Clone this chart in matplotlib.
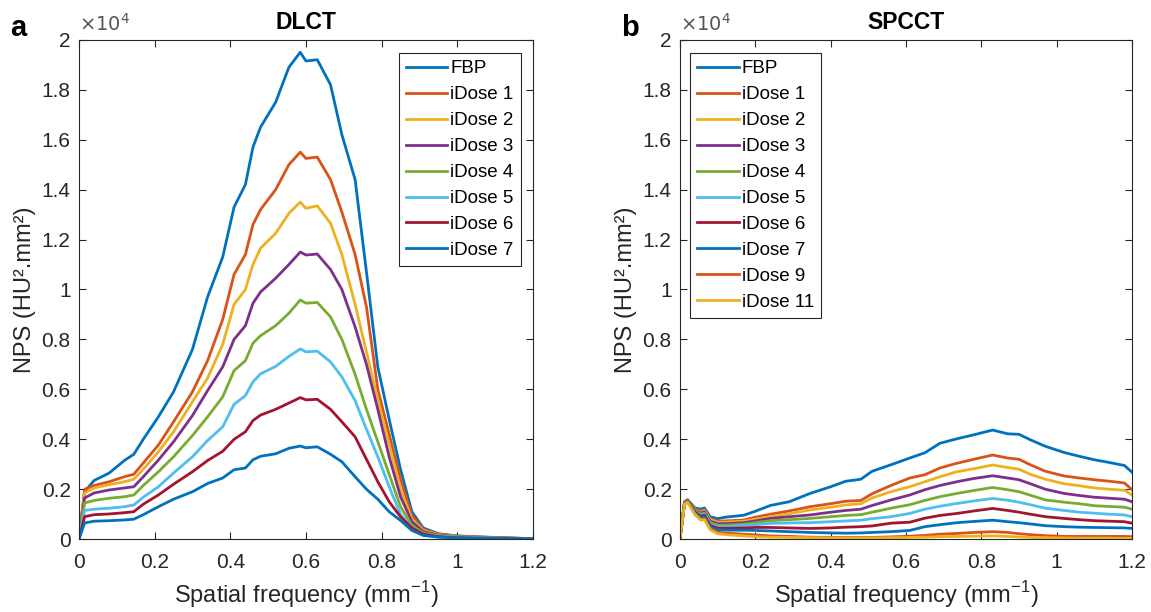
import numpy as np
import matplotlib
matplotlib.use("Agg")
import matplotlib.pyplot as plt
from matplotlib.ticker import FormatStrFormatter

plt.rcParams['font.family'] = ['Liberation Sans', 'DejaVu Sans']

# MATLAB default colour order
colors = ['#0072BD', '#D95319', '#EDB120', '#7E2F8E', '#77AC30', '#4DBEEE', '#A2142F']

# ---- DLCT (values in units of 1e4 HU^2.mm^2) ----
x_dlct = [0, 0.015, 0.04, 0.08, 0.12, 0.145, 0.17, 0.21, 0.25, 0.30, 0.34, 0.38, 0.41, 0.44,
          0.46, 0.48, 0.52, 0.555, 0.585, 0.60, 0.63, 0.665, 0.695, 0.73, 0.76, 0.79, 0.82,
          0.85, 0.88, 0.91, 0.95, 1.0, 1.1, 1.2]
dlct_labels = ['FBP', 'iDose 1', 'iDose 2', 'iDose 3', 'iDose 4', 'iDose 5', 'iDose 6', 'iDose 7']
dlct_fbp = [0, 0.19, 0.235, 0.265, 0.315, 0.34, 0.40, 0.49, 0.59, 0.76, 0.97, 1.13, 1.33, 1.42,
            1.57, 1.65, 1.75, 1.89, 1.95, 1.915, 1.92, 1.82, 1.62, 1.44, 1.07, 0.69, 0.48,
            0.28, 0.11, 0.045, 0.022, 0.013, 0.007, 0.002]
dlct_id1 = [0, 0.20, 0.215, 0.23, 0.25, 0.26, 0.305, 0.377, 0.47, 0.59, 0.715, 0.88, 1.06, 1.14,
            1.26, 1.32, 1.40, 1.50, 1.55, 1.525, 1.53, 1.44, 1.31, 1.14, 0.93, 0.60, 0.42,
            0.24, 0.095, 0.04, 0.02, 0.012, 0.006, 0.002]
dlct_id2 = [0, 0.185, 0.205, 0.218, 0.23, 0.24, 0.28, 0.35, 0.43, 0.55, 0.645, 0.78, 0.94, 1.0,
            1.10, 1.165, 1.225, 1.305, 1.35, 1.325, 1.335, 1.265, 1.14, 0.94, 0.75, 0.56, 0.38,
            0.20, 0.08, 0.035, 0.018, 0.011, 0.005, 0.002]
dlct_id3 = [0, 0.165, 0.185, 0.197, 0.205, 0.21, 0.25, 0.317, 0.39, 0.495, 0.595, 0.69, 0.80, 0.855,
            0.945, 0.99, 1.045, 1.10, 1.15, 1.138, 1.142, 1.08, 1.00, 0.85, 0.70, 0.52, 0.33,
            0.17, 0.07, 0.03, 0.016, 0.01, 0.005, 0.002]
dlct_id4 = [0, 0.145, 0.155, 0.164, 0.17, 0.177, 0.215, 0.27, 0.33, 0.415, 0.49, 0.57, 0.675, 0.715,
            0.785, 0.815, 0.855, 0.905, 0.958, 0.945, 0.948, 0.89, 0.80, 0.66, 0.52, 0.39, 0.26,
            0.13, 0.055, 0.025, 0.014, 0.009, 0.004, 0.002]
dlct_id5 = [0, 0.115, 0.12, 0.124, 0.13, 0.137, 0.168, 0.21, 0.265, 0.33, 0.395, 0.45, 0.54, 0.575,
            0.63, 0.662, 0.692, 0.732, 0.762, 0.75, 0.753, 0.71, 0.65, 0.555, 0.44, 0.33, 0.21,
            0.10, 0.045, 0.02, 0.012, 0.008, 0.004, 0.002]
dlct_id6 = [0, 0.09, 0.098, 0.101, 0.106, 0.11, 0.14, 0.177, 0.22, 0.27, 0.315, 0.352, 0.40, 0.43,
            0.475, 0.497, 0.52, 0.545, 0.567, 0.558, 0.56, 0.52, 0.47, 0.41, 0.32, 0.23, 0.15,
            0.09, 0.045, 0.02, 0.01, 0.006, 0.003, 0.001]
dlct_id7 = [0, 0.065, 0.072, 0.074, 0.077, 0.08, 0.098, 0.13, 0.16, 0.19, 0.223, 0.245, 0.278, 0.285,
            0.318, 0.332, 0.342, 0.364, 0.373, 0.366, 0.37, 0.34, 0.31, 0.25, 0.20, 0.16, 0.11,
            0.075, 0.035, 0.015, 0.008, 0.005, 0.002, 0.001]
dlct_series = [dlct_fbp, dlct_id1, dlct_id2, dlct_id3, dlct_id4, dlct_id5, dlct_id6, dlct_id7]

# ---- SPCCT (values in units of 1e4 HU^2.mm^2) ----
x_spcct = [0, 0.012, 0.02, 0.04, 0.055, 0.065, 0.08, 0.1, 0.12, 0.17, 0.2, 0.24, 0.29, 0.345,
           0.4, 0.44, 0.48, 0.51, 0.56, 0.61, 0.65, 0.69, 0.735, 0.78, 0.83, 0.87, 0.9, 0.93,
           0.97, 1.02, 1.06, 1.1, 1.14, 1.18, 1.2]
spcct_labels = ['FBP', 'iDose 1', 'iDose 2', 'iDose 3', 'iDose 4', 'iDose 5', 'iDose 6',
                'iDose 7', 'iDose 9', 'iDose 11']
spcct_fbp = [0.005, 0.15, 0.158, 0.125, 0.12, 0.125, 0.09, 0.082, 0.088, 0.096, 0.112, 0.135, 0.15,
             0.183, 0.21, 0.232, 0.24, 0.272, 0.298, 0.325, 0.346, 0.384, 0.402, 0.418, 0.437,
             0.422, 0.42, 0.398, 0.372, 0.347, 0.332, 0.318, 0.307, 0.295, 0.268]
spcct_id1 = [0.005, 0.15, 0.157, 0.12, 0.112, 0.118, 0.082, 0.072, 0.073, 0.077, 0.088, 0.1, 0.113,
             0.13, 0.142, 0.152, 0.155, 0.182, 0.215, 0.245, 0.258, 0.285, 0.304, 0.32, 0.337,
             0.325, 0.32, 0.298, 0.272, 0.253, 0.245, 0.238, 0.232, 0.225, 0.198]
spcct_id2 = [0.005, 0.148, 0.156, 0.118, 0.108, 0.115, 0.078, 0.068, 0.068, 0.072, 0.08, 0.09, 0.102,
             0.117, 0.128, 0.137, 0.142, 0.165, 0.19, 0.21, 0.23, 0.25, 0.27, 0.282, 0.297,
             0.287, 0.28, 0.26, 0.24, 0.222, 0.214, 0.205, 0.2, 0.196, 0.177]
spcct_id3 = [0.005, 0.147, 0.155, 0.116, 0.104, 0.11, 0.072, 0.062, 0.062, 0.066, 0.073, 0.083, 0.09,
             0.097, 0.108, 0.115, 0.12, 0.135, 0.157, 0.177, 0.198, 0.215, 0.23, 0.243, 0.254,
             0.245, 0.238, 0.222, 0.2, 0.183, 0.175, 0.168, 0.164, 0.16, 0.15]
spcct_id4 = [0.005, 0.146, 0.154, 0.113, 0.1, 0.105, 0.066, 0.056, 0.056, 0.06, 0.066, 0.074, 0.078,
             0.083, 0.09, 0.095, 0.098, 0.108, 0.124, 0.138, 0.155, 0.17, 0.183, 0.195, 0.207,
             0.198, 0.19, 0.176, 0.157, 0.148, 0.142, 0.134, 0.131, 0.128, 0.12]
spcct_id5 = [0.005, 0.145, 0.153, 0.11, 0.096, 0.1, 0.06, 0.05, 0.05, 0.055, 0.058, 0.063, 0.065,
             0.066, 0.07, 0.073, 0.076, 0.082, 0.09, 0.103, 0.12, 0.132, 0.143, 0.153, 0.163,
             0.156, 0.148, 0.138, 0.124, 0.115, 0.108, 0.104, 0.1, 0.097, 0.09]
spcct_id6 = [0.005, 0.144, 0.152, 0.108, 0.092, 0.096, 0.055, 0.044, 0.043, 0.045, 0.047, 0.047, 0.045,
             0.043, 0.045, 0.048, 0.05, 0.053, 0.064, 0.068, 0.084, 0.095, 0.103, 0.113, 0.123,
             0.115, 0.108, 0.1, 0.09, 0.083, 0.078, 0.074, 0.072, 0.07, 0.064]
spcct_id7 = [0.005, 0.143, 0.151, 0.105, 0.088, 0.09, 0.05, 0.038, 0.036, 0.036, 0.035, 0.033, 0.03,
             0.027, 0.025, 0.024, 0.025, 0.027, 0.03, 0.035, 0.05, 0.058, 0.066, 0.071, 0.076,
             0.07, 0.066, 0.061, 0.054, 0.05, 0.048, 0.047, 0.046, 0.045, 0.043]
spcct_id9 = [0.005, 0.142, 0.15, 0.1, 0.08, 0.082, 0.042, 0.028, 0.024, 0.02, 0.017, 0.013, 0.011,
             0.008, 0.007, 0.007, 0.007, 0.007, 0.009, 0.012, 0.015, 0.02, 0.023, 0.027, 0.03,
             0.027, 0.022, 0.018, 0.014, 0.011, 0.011, 0.011, 0.011, 0.011, 0.01]
spcct_id11 = [0.005, 0.14, 0.148, 0.098, 0.076, 0.078, 0.038, 0.022, 0.018, 0.013, 0.01, 0.008, 0.007,
              0.006, 0.005, 0.005, 0.005, 0.005, 0.006, 0.007, 0.008, 0.01, 0.011, 0.012, 0.013,
              0.011, 0.009, 0.007, 0.006, 0.005, 0.004, 0.004, 0.004, 0.003, 0.003]
spcct_series = [spcct_fbp, spcct_id1, spcct_id2, spcct_id3, spcct_id4, spcct_id5, spcct_id6,
                spcct_id7, spcct_id9, spcct_id11]

xticks = [0, 0.2, 0.4, 0.6, 0.8, 1, 1.2]
yticks = [0, 0.2, 0.4, 0.6, 0.8, 1, 1.2, 1.4, 1.6, 1.8, 2]

fig = plt.figure(figsize=(11.51, 6.12), dpi=100)
ax1 = fig.add_axes([0.0686, 0.119, 0.3944, 0.816])
ax2 = fig.add_axes([0.5908, 0.119, 0.3927, 0.816])

axcol = '#262626'


def style_axes(ax, title):
    ax.set_xlim(0, 1.2)
    ax.set_ylim(0, 2)
    ax.set_xticks(xticks)
    ax.set_yticks(yticks)
    ax.xaxis.set_major_formatter(FormatStrFormatter('%g'))
    ax.yaxis.set_major_formatter(FormatStrFormatter('%g'))
    ax.tick_params(direction='in', top=True, right=True, length=5, width=0.8,
                   labelsize=15, colors=axcol)
    ax.tick_params(axis='x', pad=10)
    ax.tick_params(axis='y', pad=6)
    for s in ax.spines.values():
        s.set_color(axcol)
        s.set_linewidth(0.8)
    ax.set_xlabel('Spatial frequency (mm$^{\\mathregular{-1}}$)', fontsize=17, color=axcol,
                  labelpad=5)
    ax.set_ylabel('NPS (HU².mm²)', fontsize=17, color=axcol, labelpad=4)
    ax.set_title(title, fontsize=16.5, fontweight='bold', pad=8)
    ax.text(0.0, 1.01, r'$\times10^{4}$', transform=ax.transAxes, fontsize=14,
            color='#555555', ha='left', va='bottom')


leg_kw = dict(borderaxespad=0, fontsize=13.5, handlelength=2.2, handletextpad=0.15,
              labelspacing=0.47, borderpad=0.4, fancybox=False, framealpha=1,
              edgecolor=axcol)

for i, (ys, lab) in enumerate(zip(dlct_series, dlct_labels)):
    ax1.plot(x_dlct, ys, color=colors[i % 7], lw=2.0, label=lab)
style_axes(ax1, 'DLCT')
leg1 = ax1.legend(loc='upper right', bbox_to_anchor=(0.974, 0.974), **leg_kw)
leg1.get_frame().set_linewidth(0.8)

for i, (ys, lab) in enumerate(zip(spcct_series, spcct_labels)):
    ax2.plot(x_spcct, ys, color=colors[i % 7], lw=2.0, label=lab)
style_axes(ax2, 'SPCCT')
leg2 = ax2.legend(loc='upper left', bbox_to_anchor=(0.022, 0.974), **leg_kw)
leg2.get_frame().set_linewidth(0.8)

fig.text(0.009, 0.955, 'a', fontsize=21, fontweight='bold', va='center')
fig.text(0.540, 0.955, 'b', fontsize=21, fontweight='bold', va='center')

fig.savefig('out.png', dpi=100)
